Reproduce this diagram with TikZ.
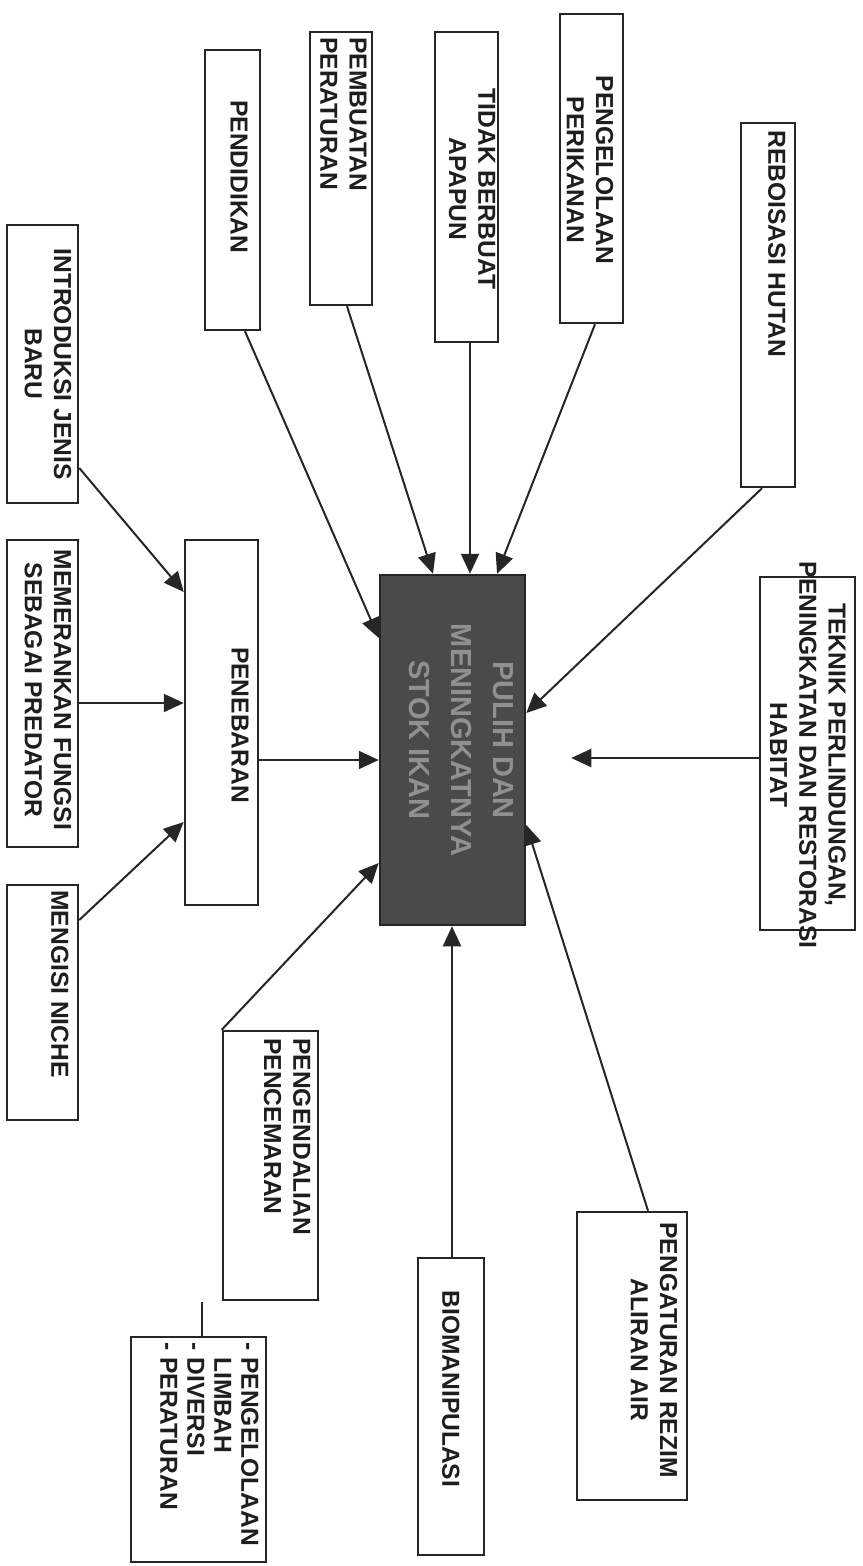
\documentclass[tikz,border=0pt]{standalone}
\usepackage{fontspec}
\setmainfont{Liberation Sans}
\usetikzlibrary{arrows.meta,fit}
\definecolor{ln}{HTML}{262626}
\definecolor{ctrfill}{HTML}{4A4A4A}
\definecolor{ctrtext}{HTML}{909090}
\definecolor{txt}{HTML}{1E1E1E}
\begin{document}
\begin{tikzpicture}[x=0.5pt,y=-0.5pt,
  box/.style={draw=ln, line width=1.25pt, inner sep=0pt},
  lbl/.style={rotate=-90, inner sep=0pt, text=txt, font=\bfseries\fontsize{12.3}{14.6}\selectfont},
  ctrlbl/.style={rotate=-90, inner sep=0pt, text=ctrtext, font=\bfseries\fontsize{14.5}{21}\selectfont},
  arr/.style={draw=ln, line width=1pt, -{Triangle[length=10pt,width=9pt]}},
  stub/.style={draw=ln, line width=1pt},
]
\useasboundingbox[fill=white] (0,0) rectangle (862,1566);

% boxes
\node[box, fit={(741,123) (795,487)}] (reb) {};
\node[box, fit={(560,14) (623,323)}] (pkn) {};
\node[box, fit={(435,32) (498,342)}] (tidak) {};
\node[box, fit={(310,32) (372,305)}] (pemb) {};
\node[box, fit={(205,50) (260,330)}] (pend) {};
\node[box, fit={(7,225) (78,503)}] (intro) {};
\node[box, fit={(7,540) (78,847)}] (memer) {};
\node[box, fit={(7,885) (78,1120)}] (mengisi) {};
\node[box, fit={(185,540) (258,905)}] (peneb) {};
\node[box, fill=ctrfill, fit={(380,575) (525,925)}] (ctr) {};
\node[box, fit={(760,577) (855,930)}] (tek) {};
\node[box, fit={(223,1031) (318,1300)}] (pengend) {};
\node[box, fit={(418,1258) (484,1555)}] (bio) {};
\node[box, fit={(577,1212) (687,1500)}] (rezim) {};
\node[box, fit={(131,1337) (266,1562)}] (list) {};

% connectors
\draw[arr] (762,0 |- reb.south) -- (ctr.east |- 0,713);
\draw[arr, shorten >=22.5pt] (tek.west |- 0,758) -- (ctr.east |- 0,758);
\draw[arr] (595,0 |- pkn.south) -- (497,0 |- ctr.north);
\draw[arr] (470,0 |- tidak.south) -- (470,0 |- ctr.north);
\draw[arr] (347,0 |- pemb.south) -- (433,0 |- ctr.north);
\draw[arr] (245,0 |- pend.south) -- (ctr.west |- 0,638);
\draw[arr] (intro.east |- 0,468) -- (peneb.west |- 0,592);
\draw[arr] (memer.east |- 0,703) -- (peneb.west |- 0,703);
\draw[arr] (mengisi.east |- 0,920) -- (peneb.west |- 0,822);
\draw[arr] (peneb.east |- 0,760) -- (ctr.west |- 0,760);
\draw[arr] (pengend.north west) -- (ctr.west |- 0,863);
\draw[arr] (452,0 |- bio.north) -- (452,0 |- ctr.south);
\draw[arr] (648,0 |- rezim.north) -- (ctr.east |- 0,825);
\coordinate (stubtop) at (202,1302);
\draw[stub] (202,0 |- list.north) -- (stubtop);

% labels
\node[lbl, anchor=north west, align=left] (reb-t) at (786,130) {REBOISASI HUTAN};
\node[lbl, align=center] (pkn-t) at (590,170) {PENGELOLAAN\\PERIKANAN};
\node[lbl, align=center] (tidak-t) at (472,189) {TIDAK BERBUAT\\APAPUN};
\node[lbl, anchor=north west, align=left] (pemb-t) at (367,37) {PEMBUATAN\\PERATURAN};
\node[lbl, anchor=north west, align=left] (pend-t) at (248,100) {PENDIDIKAN};
\node[lbl, align=center] (intro-t) at (48,364) {INTRODUKSI JENIS\\BARU};
\node[lbl, align=center] (memer-t) at (48,690) {MEMERANKAN FUNGSI\\SEBAGAI PREDATOR};
\node[lbl, anchor=north west, align=left] (mengisi-t) at (69,890) {MENGISI NICHE};
\node[lbl, align=center] (peneb-t) at (240,725) {PENEBARAN};
\node[ctrlbl, align=center] (ctr-t) at (461,740) {PULIH DAN\\MENINGKATNYA\\STOK IKAN};
\node[lbl, align=center] (tek-t) at (808,755) {TEKNIK PERLINDUNGAN,\\PENINGKATAN DAN RESTORASI\\HABITAT};
\node[lbl, anchor=north west, align=left] (pengend-t) at (311,1038) {PENGENDALIAN\\PENCEMARAN};
\node[lbl, align=center] (rezim-t) at (654,1350) {PENGATURAN REZIM\\ALIRAN AIR};
\node[lbl, anchor=north west, align=left] (bio-t) at (460,1290) {BIOMANIPULASI};
\node[lbl, anchor=north west, align=left, font=\bfseries\fontsize{12.3}{13.5}\selectfont] (list-t) at (259,1342) {- PENGELOLAAN\\\phantom{- }LIMBAH\\- DIVERSI\\- PERATURAN};
\end{tikzpicture}
\end{document}
